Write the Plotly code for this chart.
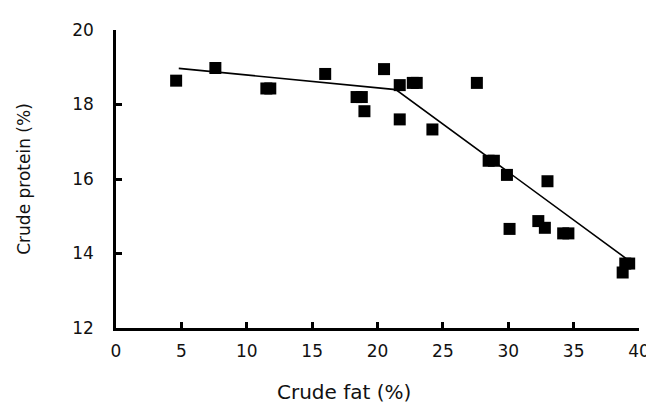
import plotly.graph_objects as go

# Observed samples: crude fat (%) vs crude protein (%)
fat = [4.6, 7.6, 11.5, 11.8, 16.0, 18.4, 18.8, 19.0, 20.5, 21.7, 22.7, 23.0,
       21.7, 24.2, 27.6, 28.5, 28.9, 29.9, 33.0, 30.1, 32.3, 32.8, 34.2, 34.6,
       38.95, 39.25, 38.75]
protein = [18.64, 18.98, 18.43, 18.43, 18.82, 18.20, 18.20, 17.82, 18.95, 18.52, 18.58, 18.58,
           17.60, 17.33, 18.58, 16.49, 16.49, 16.11, 15.94, 14.66, 14.87, 14.69, 14.54, 14.54,
           13.73, 13.73, 13.49]

# Broken-line (segmented) fit
fit_x = [4.8, 21.4, 39.0]
fit_y = [18.97, 18.40, 13.87]

x_ticks = [0, 5, 10, 15, 20, 25, 30, 35, 40]
y_ticks = [12, 14, 16, 18, 20]

FONT = "DejaVu Sans"

fig = go.Figure()
fig.add_trace(go.Scatter(x=fit_x, y=fit_y, mode="lines",
                         line=dict(color="black", width=1.6), hoverinfo="skip"))
fig.add_trace(go.Scatter(x=fat, y=protein, mode="markers",
                         marker=dict(symbol="square", size=12, color="black",
                                     line=dict(width=0))))

fig.update_layout(
    width=654, height=404,
    margin=dict(l=108, r=18, t=20, b=84),
    paper_bgcolor="white", plot_bgcolor="white",
    showlegend=False,
    font=dict(family=FONT, color="#111111"),
    annotations=[dict(text="Crude fat (%)", xref="paper", yref="paper",
                      x=(338 - 108) / 528, y=-(384 - 320) / 300,
                      xanchor="center", yanchor="middle", showarrow=False,
                      font=dict(family=FONT, size=20, color="#111111"))],
)
fig.update_xaxes(range=[0, 40], tickvals=x_ticks, ticktext=[str(v) for v in x_ticks],
                 showgrid=False, zeroline=False, showline=True, linecolor="black",
                 linewidth=2.5, ticks="inside", ticklen=6, tickwidth=2.5, tickcolor="black",
                 tickfont=dict(family=FONT, size=17, color="#111111"),
                 ticklabelstandoff=6)
fig.update_yaxes(range=[12, 20], tickvals=y_ticks, ticktext=[str(v) for v in y_ticks],
                 showgrid=False, zeroline=False, showline=True, linecolor="black",
                 linewidth=2.5, ticks="inside", ticklen=6, tickwidth=2.5, tickcolor="black",
                 tickfont=dict(family=FONT, size=17, color="#111111"),
                 ticklabelstandoff=16,
                 title=dict(text="Crude protein (%)", standoff=38,
                            font=dict(family=FONT, size=17, color="#111111")))

fig.write_html("out.html")
